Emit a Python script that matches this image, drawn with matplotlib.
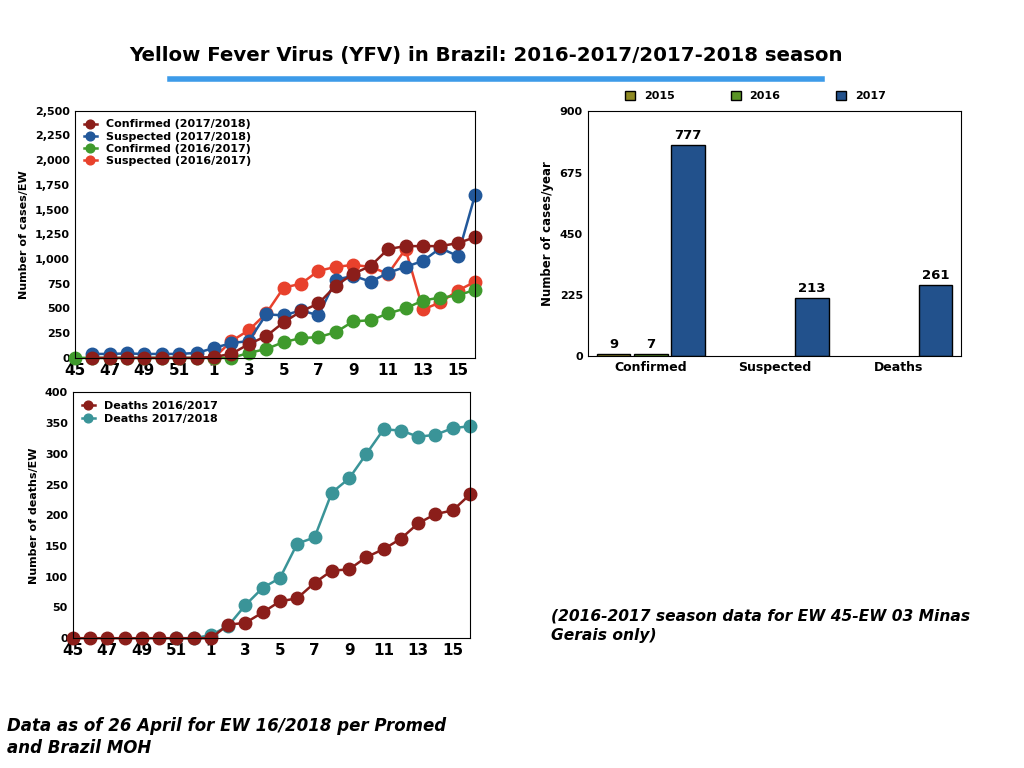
import matplotlib.pyplot as plt
from matplotlib.ticker import FuncFormatter

weeks = [45, 46, 47, 48, 49, 50, 51, 52] + list(range(1, 17))
N = None
conf_1718 = [N, 0, 0, 0, 0, 0, 0, 0, 10, 40, 140, 220, 360, 470, 550, 730, 850, 930, 1100, 1130, 1130, 1130, 1160, 1220]
susp_1718 = [N, 40, 40, 45, 40, 40, 40, 50, 100, 150, 170, 440, 430, 480, 430, 790, 830, 770, 860, 920, 980, 1110, 1030, 1650]
conf_1617 = [0, 0, 0, 0, 0, 0, 0, 0, 0, 0, 50, 90, 160, 200, 210, 260, 370, 380, 450, 500, 580, 610, 630, 690]
susp_1617 = [N, N, N, N, N, N, N, N, 0, 170, 280, 450, 710, 750, 880, 920, 940, 920, 850, 1100, 490, 560, 680, 770]
deaths_1617 = [0, 0, 0, 0, 0, 0, 0, 0, 0, 22, 25, 42, 60, 65, 90, 110, 112, 132, 145, 162, 187, 202, 208, 234]
deaths_1718 = [N, N, N, N, N, N, 0, 0, 5, 20, 54, 82, 98, 154, 164, 237, 260, 300, 340, 338, 328, 331, 342, 345]

bar_cats = ['Confirmed', 'Suspected', 'Deaths']
bar_2015 = [9, 0, 0]
bar_2016 = [7, 0, 0]
bar_2017 = [777, 213, 261]

plt.rcParams['font.family'] = 'DejaVu Sans'
plt.rcParams['font.weight'] = 'bold'
fig = plt.figure(figsize=(10.24, 7.68), dpi=100)

fig.text(0.475, 0.928, 'Yellow Fever Virus (YFV) in Brazil: 2016-2017/2017-2018 season',
         ha='center', va='center', fontsize=14.2, fontweight='bold')
fig.add_artist(plt.Line2D([0.166, 0.803], [0.897, 0.897], color='#3d9be9', lw=4))

x = list(range(len(weeks)))
tick_pos = x[::2]
tick_lab = [str(w) for w in weeks[::2]]

def line(ax, vals, color, label):
    xs = [i for i, v in zip(x, vals) if v is not None]
    ys = [v for v in vals if v is not None]
    ax.plot(xs, ys, '-o', color=color, ms=9, lw=1.8, label=label)

ax1 = fig.add_axes([0.073, 0.534, 0.391, 0.322])
line(ax1, susp_1617, '#e8412c', 'Suspected (2016/2017)')
line(ax1, conf_1617, '#3f9a2c', 'Confirmed (2016/2017)')
line(ax1, susp_1718, '#22589a', 'Suspected (2017/2018)')
line(ax1, conf_1718, '#8b1e1a', 'Confirmed (2017/2018)')
ax1.set_ylim(0, 2500)
ax1.set_yticks(range(0, 2501, 250))
ax1.yaxis.set_major_formatter(FuncFormatter(lambda v, p: f'{int(v):,}'))
ax1.set_ylabel('Number of cases/EW', fontsize=8, fontweight='bold')
h, l = ax1.get_legend_handles_labels()
ax1.legend(h[::-1], l[::-1], loc='upper left', frameon=False, fontsize=8,
           handlelength=1.2, labelspacing=0.2, borderpad=0.3, markerscale=0.7)

ax2 = fig.add_axes([0.071, 0.169, 0.388, 0.32])
line(ax2, deaths_1718, '#3a9498', 'Deaths 2017/2018')
line(ax2, deaths_1617, '#8b1e1a', 'Deaths 2016/2017')
ax2.set_ylim(0, 400)
ax2.set_yticks(range(0, 401, 50))
ax2.set_ylabel('Number of deaths/EW', fontsize=8, fontweight='bold')
h, l = ax2.get_legend_handles_labels()
ax2.legend(h[::-1], l[::-1], loc='upper left', frameon=False, fontsize=8,
           handlelength=1.2, labelspacing=0.2, borderpad=0.3, markerscale=0.7)

for ax in (ax1, ax2):
    ax.set_xlim(0, len(weeks) - 1)
    ax.set_xticks(tick_pos)
    ax.set_xticklabels(tick_lab, fontsize=11, fontweight='bold')
    ax.tick_params(axis='y', labelsize=8, length=0)
    ax.tick_params(axis='x', length=0)
    for ln in ax.lines:
        ln.set_clip_on(False)

ax3 = fig.add_axes([0.574, 0.536, 0.364, 0.319])
bw = 0.27
bx = list(range(len(bar_cats)))
colors = ['#8f8a24', '#5a9425', '#22518c']
for k, (vals, c, lab) in enumerate(zip([bar_2015, bar_2016, bar_2017], colors, ['2015', '2016', '2017'])):
    pos = [b + (k - 1) * 0.3 for b, v in zip(bx, vals) if v > 0]
    vv = [v for v in vals if v > 0]
    ax3.bar(pos, vv, width=bw, color=c, edgecolor='black', lw=1, label=lab)
    for p, v in zip(pos, vv):
        ax3.text(p, v + 12, str(v), ha='center', va='bottom', fontsize=9.5, fontweight='bold')
ax3.set_ylim(0, 900)
ax3.set_yticks([0, 225, 450, 675, 900])
ax3.set_xlim(-0.51, 2.5)
ax3.set_xticks(bx)
ax3.set_xticklabels(bar_cats, fontsize=9, fontweight='bold')
ax3.tick_params(axis='y', labelsize=8, length=0)
ax3.tick_params(axis='x', length=0)
ax3.set_ylabel('Number of cases/year', fontsize=8.5, fontweight='bold')
ax3.legend(loc='lower center', bbox_to_anchor=(0.45, 1.0), ncol=3, frameon=False,
           fontsize=8, handlelength=0.9, handleheight=0.9, columnspacing=5)

fig.text(0.538, 0.185, '(2016-2017 season data for EW 45-EW 03 Minas\nGerais only)',
         fontsize=11.2, fontweight='bold', style='italic', va='center', linespacing=1.4)
fig.text(0.007, 0.04, 'Data as of 26 April for EW 16/2018 per Promed\nand Brazil MOH',
         fontsize=12, fontweight='bold', style='italic', va='center', linespacing=1.3)

fig.savefig('out.png', dpi=100)
